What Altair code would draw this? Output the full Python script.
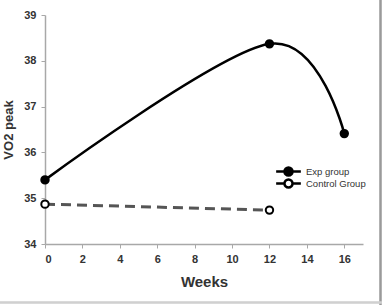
import altair as alt
import pandas as pd

# data
exp_weeks = [0, 12, 16]
exp_vo2 = [35.4, 38.37, 36.41]
ctrl_weeks = [0, 12]
ctrl_vo2 = [34.87, 34.74]
groups = ["Exp group", "Control Group"]

df = pd.DataFrame({
    "Weeks": exp_weeks + ctrl_weeks,
    "VO2": exp_vo2 + ctrl_vo2,
    "group": [groups[0]] * len(exp_weeks) + [groups[1]] * len(ctrl_weeks),
})

FONT = "Liberation Sans"

x = alt.X("Weeks:Q", scale=alt.Scale(domain=[0, 17], nice=False),
          axis=alt.Axis(values=list(range(0, 17, 2)), title="Weeks",
                        titleFontSize=15, titlePadding=10))
y = alt.Y("VO2:Q", scale=alt.Scale(domain=[34, 39], nice=False, zero=False),
          axis=alt.Axis(values=[34, 35, 36, 37, 38, 39], title="VO2 peak",
                        titleFontSize=13, titlePadding=8))

base = alt.Chart(df)

exp_line = base.transform_filter(alt.datum.group == groups[0]).mark_line(
    interpolate="cardinal", color="black", strokeWidth=2.5
).encode(x=x, y=y)

ctrl_line = base.transform_filter(alt.datum.group == groups[1]).mark_line(
    color="#555555", strokeWidth=3, strokeDash=[10, 6]
).encode(x=x, y=y)

sym_path = ("M-0.95,0 L-0.31,0 M0.31,0 L0.95,0 "
            "M-0.31,0 A0.31,0.31 0 1,1 0.31,0 A0.31,0.31 0 1,1 -0.31,0 Z")

points = base.mark_point(filled=True, size=55, stroke="black", strokeWidth=2, opacity=1).encode(
    x=x, y=y,
    fill=alt.Fill("group:N",
                  scale=alt.Scale(domain=groups, range=["black", "white"]),
                  legend=alt.Legend(title=None, orient="none", legendX=229, legendY=151,
                                    symbolType=sym_path, symbolSize=676,
                                    symbolStrokeColor="black", symbolStrokeWidth=2.5,
                                    labelFont=FONT, labelFontSize=9.5, labelColor="#333",
                                    labelOffset=3, clipHeight=11, rowPadding=1)),
)

right_border = alt.Chart(df).mark_rule(color="#9a9a9a", strokeWidth=1.5).encode(
    x=alt.value(335.5), y=alt.value(-15), y2=alt.value(290))
bottom_border = alt.Chart(df).mark_rule(color="#d0d0d0", strokeWidth=1.5).encode(
    x=alt.value(-45), x2=alt.value(337), y=alt.value(287.5))

chart = alt.layer(exp_line, ctrl_line, points, right_border, bottom_border).properties(
    width=318, height=229,
    background="white",
    autosize=alt.AutoSizeParams(type="none"),
    padding={"left": 45, "top": 15, "right": 19, "bottom": 61},
).configure_view(stroke=None).configure_axis(
    grid=False, labelFont=FONT, labelFontWeight="bold", labelFontSize=11,
    labelColor="#333333", domainColor="#a8a8a8", tickColor="#a8a8a8",
    tickSize=4, labelPadding=5, titleFont=FONT, titleFontWeight="bold",
    titleColor="#333333", domainWidth=1.5,
)

chart.save("out.html", embed_options={"renderer": "svg", "actions": False})
